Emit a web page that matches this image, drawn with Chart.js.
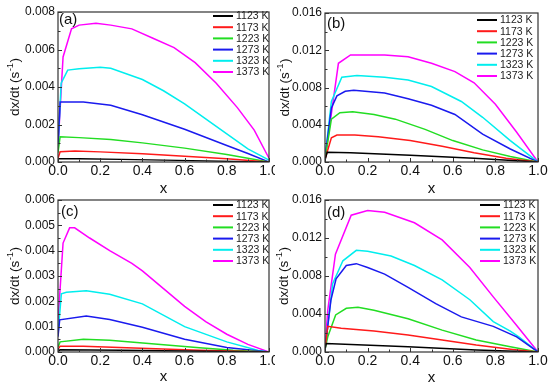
<!DOCTYPE html>
<html><head><meta charset="utf-8">
<script src="https://cdn.jsdelivr.net/npm/chart.js@4.4.0/dist/chart.umd.min.js"></script>
<style>
html,body{margin:0;padding:0;background:#fff;}
#wrap{position:relative;width:550px;height:391px;overflow:hidden;background:#fff;}
canvas{position:absolute;}
</style></head><body>
<div id="wrap">
<canvas id="cA" width="275" height="200" style="left:0;top:0"></canvas>
<canvas id="cB" width="275" height="200" style="left:275px;top:0"></canvas>
<canvas id="cC" width="275" height="203" style="left:0;top:188px"></canvas>
<canvas id="cD" width="275" height="203" style="left:275px;top:188px"></canvas>
</div>
<script>
// ---------- DATA ----------
const seriesLabels = ['1123 K', '1173 K', '1223 K', '1273 K', '1323 K', '1373 K'];
const panelLabels = ['(a)', '(b)', '(c)', '(d)'];
const xTickLabels = ['0.0', '0.2', '0.4', '0.6', '0.8', '1.0'];
const yTitleMain = 'dx/dt (s';
const yTitleSup = '-1';
const yTitleEnd = ')';
const xTitle = 'x';
const yMaxA = 0.008, yStepA = 0.002;
const yMaxB = 0.016, yStepB = 0.004;
const yMaxC = 0.006, yStepC = 0.001;
const yMaxD = 0.016, yStepD = 0.004;

// Panel (a)
const a1123x = [0, 0.1, 0.3, 0.5, 0.7, 0.9, 1.0];
const a1123y = [0.00018, 0.00017, 0.00014, 0.00010, 0.00006, 0.00002, 0];
const a1173x = [0, 0.01, 0.08, 0.2, 0.4, 0.6, 0.8, 1.0];
const a1173y = [0.0002, 0.00055, 0.00058, 0.00054, 0.00044, 0.00031, 0.00017, 0];
const a1223x = [0, 0.01, 0.1, 0.25, 0.4, 0.6, 0.8, 1.0];
const a1223y = [0.0005, 0.00135, 0.0013, 0.0012, 0.00102, 0.00074, 0.0004, 0];
const a1273x = [0, 0.01, 0.12, 0.25, 0.4, 0.6, 0.8, 0.9, 1.0];
const a1273y = [0.0008, 0.0032, 0.0032, 0.00303, 0.00252, 0.00175, 0.00088, 0.00045, 0];
const a1323x = [0, 0.015, 0.046, 0.1, 0.2, 0.25, 0.4, 0.5, 0.6, 0.7, 0.8, 0.9, 1.0];
const a1323y = [0.0008, 0.0042, 0.0049, 0.00497, 0.00505, 0.005, 0.0044, 0.0038, 0.0031, 0.0023, 0.0015, 0.0007, 0.0001];
const a1373x = [0, 0.024, 0.064, 0.1, 0.18, 0.25, 0.35, 0.45, 0.55, 0.65, 0.75, 0.85, 0.93, 1.0];
const a1373y = [0.0008, 0.0056, 0.0071, 0.0073, 0.0074, 0.0073, 0.0071, 0.0066, 0.0061, 0.0053, 0.0042, 0.0029, 0.0017, 0.0002];

// Panel (b)
const b1123x = [0, 0.01, 0.12, 0.4, 0.7, 1.0];
const b1123y = [0.0002, 0.00105, 0.001, 0.00073, 0.0004, 0];
const b1173x = [0, 0.03, 0.056, 0.14, 0.25, 0.4, 0.55, 0.7, 0.85, 1.0];
const b1173y = [0.0003, 0.0026, 0.0029, 0.0029, 0.0027, 0.0023, 0.0017, 0.001, 0.0004, 0];
const b1223x = [0, 0.03, 0.07, 0.13, 0.23, 0.33, 0.47, 0.6, 0.74, 0.87, 1.0];
const b1223y = [0.0003, 0.0046, 0.0053, 0.0054, 0.0051, 0.0046, 0.0035, 0.0023, 0.0013, 0.0006, 0];
const b1273x = [0, 0.03, 0.056, 0.095, 0.135, 0.28, 0.39, 0.5, 0.61, 0.74, 0.87, 1.0];
const b1273y = [0.0004, 0.0058, 0.0071, 0.0076, 0.0077, 0.0074, 0.0068, 0.0061, 0.0051, 0.003, 0.0014, 0];
const b1323x = [0, 0.03, 0.079, 0.15, 0.28, 0.39, 0.5, 0.64, 0.74, 0.87, 1.0];
const b1323y = [0.0004, 0.0065, 0.0091, 0.0093, 0.0091, 0.0088, 0.0081, 0.0065, 0.0048, 0.0023, 0];
const b1373x = [0, 0.063, 0.12, 0.28, 0.39, 0.5, 0.61, 0.7, 0.8, 0.9, 1.0];
const b1373y = [0.0003, 0.0106, 0.0115, 0.0115, 0.0113, 0.0106, 0.0097, 0.0085, 0.0062, 0.0032, 0];

// Panel (c)
const c1123x = [0, 0.01, 0.3, 0.6, 1.0];
const c1123y = [0.00002, 0.00009, 0.00007, 0.00004, 0];
const c1173x = [0, 0.01, 0.12, 0.36, 0.67, 1.0];
const c1173y = [0.0001, 0.00023, 0.00023, 0.00016, 0.00007, 0];
const c1223x = [0, 0.01, 0.12, 0.245, 0.43, 0.67, 0.83, 1.0];
const c1223y = [0.0002, 0.0004, 0.0005, 0.00046, 0.00034, 0.00017, 0.00007, 0];
const c1273x = [0, 0.008, 0.134, 0.245, 0.4, 0.6, 0.8, 1.0];
const c1273y = [0.0006, 0.00127, 0.00142, 0.00128, 0.00098, 0.0005, 0.00018, 0];
const c1323x = [0, 0.016, 0.04, 0.134, 0.245, 0.4, 0.6, 0.8, 0.95, 1.0];
const c1323y = [0.0007, 0.0023, 0.00236, 0.00242, 0.00228, 0.0019, 0.001, 0.0004, 0.00006, 0];
const c1373x = [0, 0.024, 0.055, 0.079, 0.15, 0.245, 0.35, 0.4, 0.5, 0.6, 0.7, 0.8, 0.9, 1.0];
const c1373y = [0.0012, 0.0043, 0.0049, 0.0049, 0.0045, 0.004, 0.0035, 0.0032, 0.0025, 0.0018, 0.0012, 0.0007, 0.0003, 0];

// Panel (d)
const d1123x = [0, 0.005, 0.39, 0.71, 1.0];
const d1123y = [0.0002, 0.0009, 0.00056, 0.0002, 0];
const d1173x = [0, 0.013, 0.076, 0.23, 0.39, 0.55, 0.71, 0.87, 1.0];
const d1173y = [0.0003, 0.0027, 0.0025, 0.0022, 0.0018, 0.00126, 0.00073, 0.0003, 0];
const d1223x = [0, 0.013, 0.05, 0.1, 0.155, 0.23, 0.39, 0.55, 0.71, 0.87, 1.0];
const d1223y = [0.0003, 0.0016, 0.0039, 0.0046, 0.0047, 0.0044, 0.0035, 0.0023, 0.00126, 0.00056, 0];
const d1273x = [0, 0.028, 0.052, 0.1, 0.147, 0.2, 0.28, 0.39, 0.52, 0.64, 0.79, 0.9, 1.0];
const d1273y = [0.0003, 0.0055, 0.0077, 0.0091, 0.0093, 0.0089, 0.0082, 0.0068, 0.0051, 0.0037, 0.0027, 0.0016, 0];
const d1323x = [0, 0.036, 0.084, 0.147, 0.2, 0.31, 0.42, 0.55, 0.68, 0.79, 0.87, 0.91, 1.0];
const d1323y = [0.0003, 0.0072, 0.0096, 0.0107, 0.0106, 0.0101, 0.0091, 0.0076, 0.0055, 0.0032, 0.0022, 0.0016, 0];
const d1373x = [0, 0.013, 0.049, 0.123, 0.2, 0.28, 0.42, 0.55, 0.68, 0.79, 0.9, 1.0];
const d1373y = [0.0003, 0.0044, 0.0103, 0.0144, 0.0149, 0.0147, 0.0136, 0.0118, 0.0089, 0.0058, 0.0028, 0];

// ---------- STYLE ----------
const FONT = 'Arial, "Liberation Sans", sans-serif';
const lineColors = ['#000000', '#ff1a1a', '#22dd22', '#1a1aee', '#00eeee', '#ff00ff'];

function pts(xs, ys) { return xs.map((x, i) => ({ x: x, y: ys[i] })); }
function makeSets(list) {
  return list.map((s, i) => ({
    label: seriesLabels[i], data: pts(s[0], s[1]),
    borderColor: lineColors[i], backgroundColor: lineColors[i],
    borderWidth: 1.5, pointRadius: 0, showLine: true, tension: 0, fill: false
  }));
}

const panelPlugin = {
  id: 'panel',
  afterDatasetsDraw(chart, args, o) {
    const ctx = chart.ctx, a = chart.chartArea, xs = chart.scales.x, ys = chart.scales.y;
    ctx.save();
    ctx.strokeStyle = '#333';
    ctx.lineWidth = 1.2;
    ctx.strokeRect(a.left, a.top, a.right - a.left, a.bottom - a.top);
    ctx.lineWidth = 1;
    ctx.beginPath();
    for (let i = 0; i <= 10; i++) {
      const px = Math.round(xs.getPixelForValue(xs.min + (xs.max - xs.min) * i / 10)) + 0.5;
      const L = i % 2 === 0 ? 4 : 2.5;
      ctx.moveTo(px, a.bottom); ctx.lineTo(px, a.bottom - L);
    }
    const nY = Math.round((ys.max - ys.min) / o.step);
    for (let i = 0; i <= nY * 2; i++) {
      const py = Math.round(ys.getPixelForValue(ys.min + o.step * i / 2)) + 0.5;
      const L = i % 2 === 0 ? 4 : 2.5;
      ctx.moveTo(a.left, py); ctx.lineTo(a.left + L, py);
    }
    ctx.stroke();
    // legend
    ctx.font = '10.5px ' + FONT;
    ctx.textBaseline = 'middle';
    ctx.textAlign = 'left';
    chart.data.datasets.forEach((ds, i) => {
      const y = a.top + o.legDy + i * 11.2;
      const x0 = a.right - o.legL;
      ctx.strokeStyle = ds.borderColor;
      ctx.lineWidth = 2;
      ctx.beginPath(); ctx.moveTo(x0, y); ctx.lineTo(x0 + 20, y); ctx.stroke();
      ctx.fillStyle = '#222';
      ctx.fillText(ds.label, x0 + 23, y + 0.5);
    });
    // panel label
    ctx.font = '15px ' + FONT;
    ctx.fillStyle = '#111';
    ctx.textBaseline = 'middle';
    ctx.fillText(o.label, a.left + o.labDx, a.top + o.labDy);
    // y axis title with superscript
    ctx.translate(o.yTitleX, (a.top + a.bottom) / 2);
    ctx.rotate(-Math.PI / 2);
    const fMain = '13.5px ' + FONT, fSup = '9.5px ' + FONT;
    ctx.font = fMain; const w1 = ctx.measureText(yTitleMain).width, w3 = ctx.measureText(yTitleEnd).width;
    ctx.font = fSup; const w2 = ctx.measureText(yTitleSup).width + 1;
    let x = -(w1 + w2 + w3) / 2;
    ctx.textBaseline = 'middle';
    ctx.font = fMain; ctx.fillText(yTitleMain, x, 0); x += w1;
    ctx.font = fSup; ctx.fillText(yTitleSup, x + 0.5, -5); x += w2;
    ctx.font = fMain; ctx.fillText(yTitleEnd, x, 0);
    ctx.restore();
  }
};

function makeChart(id, sets, yMax, yStep, cfg) {
  return new Chart(document.getElementById(id), {
    type: 'scatter',
    data: { datasets: makeSets(sets) },
    plugins: [panelPlugin],
    options: {
      responsive: false, animation: false, events: [],
      layout: { padding: { left: 0, right: cfg.padR, top: cfg.padT, bottom: 0 } },
      plugins: {
        legend: { display: false }, tooltip: { enabled: false },
        panel: { step: yStep, legL: cfg.legL, legDy: cfg.legDy, label: cfg.label, labDx: cfg.labDx, labDy: cfg.labDy, yTitleX: cfg.yTitleX }
      },
      scales: {
        x: {
          type: 'linear', min: 0, max: 1,
          grid: { display: false, drawTicks: false }, border: { display: false },
          ticks: { stepSize: 0.2, padding: 1, color: '#111', font: { family: FONT, size: 14 },
                   maxRotation: 0, autoSkip: false,
                   callback: (v) => xTickLabels[Math.round(v / 0.2)] },
          title: { display: true, text: xTitle, color: '#111', font: { family: FONT, size: 15 },
                   padding: { top: 0, bottom: cfg.xTitlePad } },
          afterFit: (s) => { s.height = cfg.xH; s.paddingLeft = 0; s.paddingRight = 0; }
        },
        y: {
          type: 'linear', min: 0, max: yMax,
          grid: { display: false, drawTicks: false }, border: { display: false },
          ticks: { stepSize: yStep, padding: 3, color: '#111', font: { family: FONT, size: 12 },
                   autoSkip: false, callback: (v) => v.toFixed(3) },
          title: { display: false },
          afterFit: (s) => { s.width = cfg.yW; s.paddingTop = 0; s.paddingBottom = 0; }
        }
      }
    }
  });
}

makeChart('cA', [[a1123x, a1123y], [a1173x, a1173y], [a1223x, a1223y], [a1273x, a1273y], [a1323x, a1323y], [a1373x, a1373y]],
  yMaxA, yStepA, { padR: 6, padT: 12, xH: 38, yW: 58, xTitlePad: 2, yTitleX: 15, legL: 56, legDy: 4, label: panelLabels[0], labDx: 1, labDy: 8 });
makeChart('cB', [[b1123x, b1123y], [b1173x, b1173y], [b1223x, b1223y], [b1273x, b1273y], [b1323x, b1323y], [b1373x, b1373y]],
  yMaxB, yStepB, { padR: 12, padT: 13, xH: 38, yW: 50, xTitlePad: 2, yTitleX: 10, legL: 61, legDy: 7, label: panelLabels[1], labDx: 2, labDy: 11 });
makeChart('cC', [[c1123x, c1123y], [c1173x, c1173y], [c1223x, c1223y], [c1273x, c1273y], [c1323x, c1323y], [c1373x, c1373y]],
  yMaxC, yStepC, { padR: 6, padT: 12, xH: 39, yW: 58, xTitlePad: 5, yTitleX: 15, legL: 56, legDy: 5, label: panelLabels[2], labDx: 3, labDy: 12 });
makeChart('cD', [[d1123x, d1123y], [d1173x, d1173y], [d1223x, d1223y], [d1273x, d1273y], [d1323x, d1323y], [d1373x, d1373y]],
  yMaxD, yStepD, { padR: 12, padT: 12, xH: 39, yW: 50, xTitlePad: 4, yTitleX: 9, legL: 58, legDy: 5, label: panelLabels[3], labDx: 2, labDy: 13 });
</script>
</body></html>
